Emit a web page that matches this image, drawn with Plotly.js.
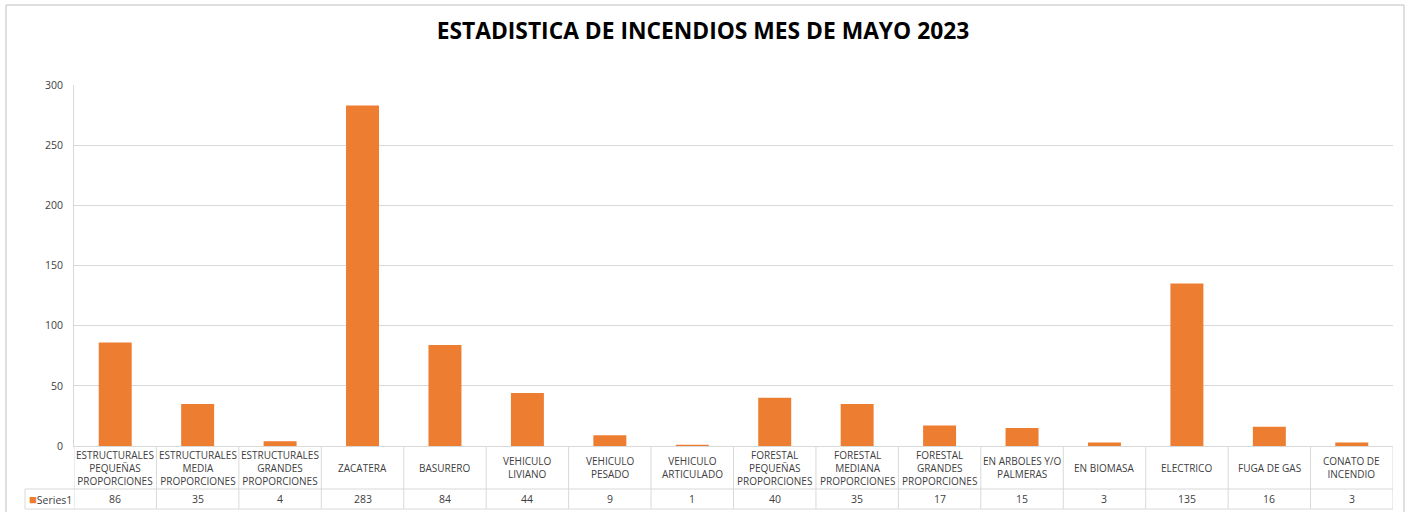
<!DOCTYPE html>
<html>
<head>
<meta charset="utf-8">
<script src="https://cdn.plot.ly/plotly-3.0.1.min.js"></script>
<style>
  html, body { margin: 0; padding: 0; background: #fff; }
  #chart { width: 1406px; height: 512px; }
</style>
</head>
<body>
<div id="chart"></div>
<script>
// datos del mes de mayo 2023
const categorias = [
  "ESTRUCTURALES<br>PEQUEÑAS<br>PROPORCIONES",
  "ESTRUCTURALES<br>MEDIA<br>PROPORCIONES",
  "ESTRUCTURALES<br>GRANDES<br>PROPORCIONES",
  "ZACATERA",
  "BASURERO",
  "VEHICULO<br>LIVIANO",
  "VEHICULO<br>PESADO",
  "VEHICULO<br>ARTICULADO",
  "FORESTAL<br>PEQUEÑAS<br>PROPORCIONES",
  "FORESTAL<br>MEDIANA<br>PROPORCIONES",
  "FORESTAL<br>GRANDES<br>PROPORCIONES",
  "EN ARBOLES Y/O<br>PALMERAS",
  "EN BIOMASA",
  "ELECTRICO",
  "FUGA DE GAS",
  "CONATO DE<br>INCENDIO"
];
const valores = [86, 35, 4, 283, 84, 44, 9, 1, 40, 35, 17, 15, 3, 135, 16, 3];
const nombreSerie = "Series1";
const ticksY = [0, 50, 100, 150, 200, 250, 300];

const naranja = "#ED7D31";
const gris = "#D9D9D9";
const texto = "#404040";

let posiciones = [];
for (let i = 0; i < valores.length; i++) posiciones.push(i);

// medidas en pixeles del area de trazado
const W = 1406, H = 512;
const mL = 74, mR = 13, mT = 85, mB = 66;
const altoPlot = H - mT - mB;
const anchoPlot = W - mL - mR;
function py(pix) { return (H - mB - pix) / altoPlot; }  // pixel y -> paper
function px(pix) { return (pix - mL) / anchoPlot; }     // pixel x -> paper

const yFila1 = py(489);
const yFila2 = py(509);

let shapes = [];
let annotations = [];

// lineas de la tabla de datos
for (let i = 0; i <= valores.length; i++) {
  shapes.push({
    type: "line", xref: "x", yref: "paper",
    x0: i - 0.5, x1: i - 0.5, y0: 0, y1: yFila2,
    line: {color: gris, width: 1}
  });
}
[yFila1, yFila2].forEach(function (yy) {
  shapes.push({
    type: "line", xref: "paper", yref: "paper",
    x0: px(25), x1: 1, y0: yy, y1: yy,
    line: {color: gris, width: 1}
  });
});
shapes.push({
  type: "line", xref: "paper", yref: "paper",
  x0: px(25), x1: px(25), y0: yFila1, y1: yFila2,
  line: {color: gris, width: 1}
});
// borde exterior del grafico
shapes.push({
  type: "rect", xref: "paper", yref: "paper",
  x0: px(6), x1: px(1404), y0: py(5), y1: py(530),
  line: {color: "#BFBFBF", width: 1}
});

for (let i = 0; i < valores.length; i++) {
  annotations.push({
    xref: "x", yref: "paper", x: i, y: py(467.5),
    text: categorias[i], showarrow: false,
    xanchor: "center", yanchor: "middle", align: "center",
    font: {family: "Open Sans, sans-serif", size: 10, color: texto}
  });
  annotations.push({
    xref: "x", yref: "paper", x: i, y: py(499),
    text: String(valores[i]), showarrow: false,
    xanchor: "center", yanchor: "middle",
    font: {family: "Open Sans, sans-serif", size: 10.5, color: texto}
  });
}
annotations.push({
  xref: "paper", yref: "paper", x: px(27), y: py(499),
  text: "<span style='color:" + naranja + ";font-size:13px'>■</span>" + nombreSerie,
  showarrow: false, xanchor: "left", yanchor: "middle",
  font: {family: "Open Sans, sans-serif", size: 10.5, color: texto}
});

const trazas = [{
  type: "bar",
  x: posiciones,
  y: valores,
  name: nombreSerie,
  marker: {color: naranja, line: {width: 0}},
  hoverinfo: "y"
}];

const layout = {
  width: W, height: H,
  margin: {l: mL, r: mR, t: mT, b: mB},
  paper_bgcolor: "#fff",
  plot_bgcolor: "#fff",
  showlegend: false,
  bargap: 0.6,
  title: {
    text: "<b>ESTADISTICA DE INCENDIOS MES DE MAYO 2023</b>",
    x: 0.5, xanchor: "center", y: 1 - 31 / H, yanchor: "middle",
    font: {family: "Open Sans, sans-serif", size: 22.8, color: "#000"}
  },
  xaxis: {
    range: [-0.5, valores.length - 0.5],
    showticklabels: false, showgrid: false, zeroline: false,
    showline: true, linecolor: gris, linewidth: 1,
    ticks: ""
  },
  yaxis: {
    range: [0, 300],
    tickvals: ticksY,
    showgrid: true, gridcolor: gris, gridwidth: 1,
    zeroline: false,
    showline: true, linecolor: gris, linewidth: 1,
    ticks: "", ticklabelstandoff: 8,
    tickfont: {family: "Open Sans, sans-serif", size: 10.5, color: "#404040"}
  },
  shapes: shapes,
  annotations: annotations
};

Plotly.newPlot("chart", trazas, layout, {displayModeBar: false, staticPlot: true});
</script>
</body>
</html>
